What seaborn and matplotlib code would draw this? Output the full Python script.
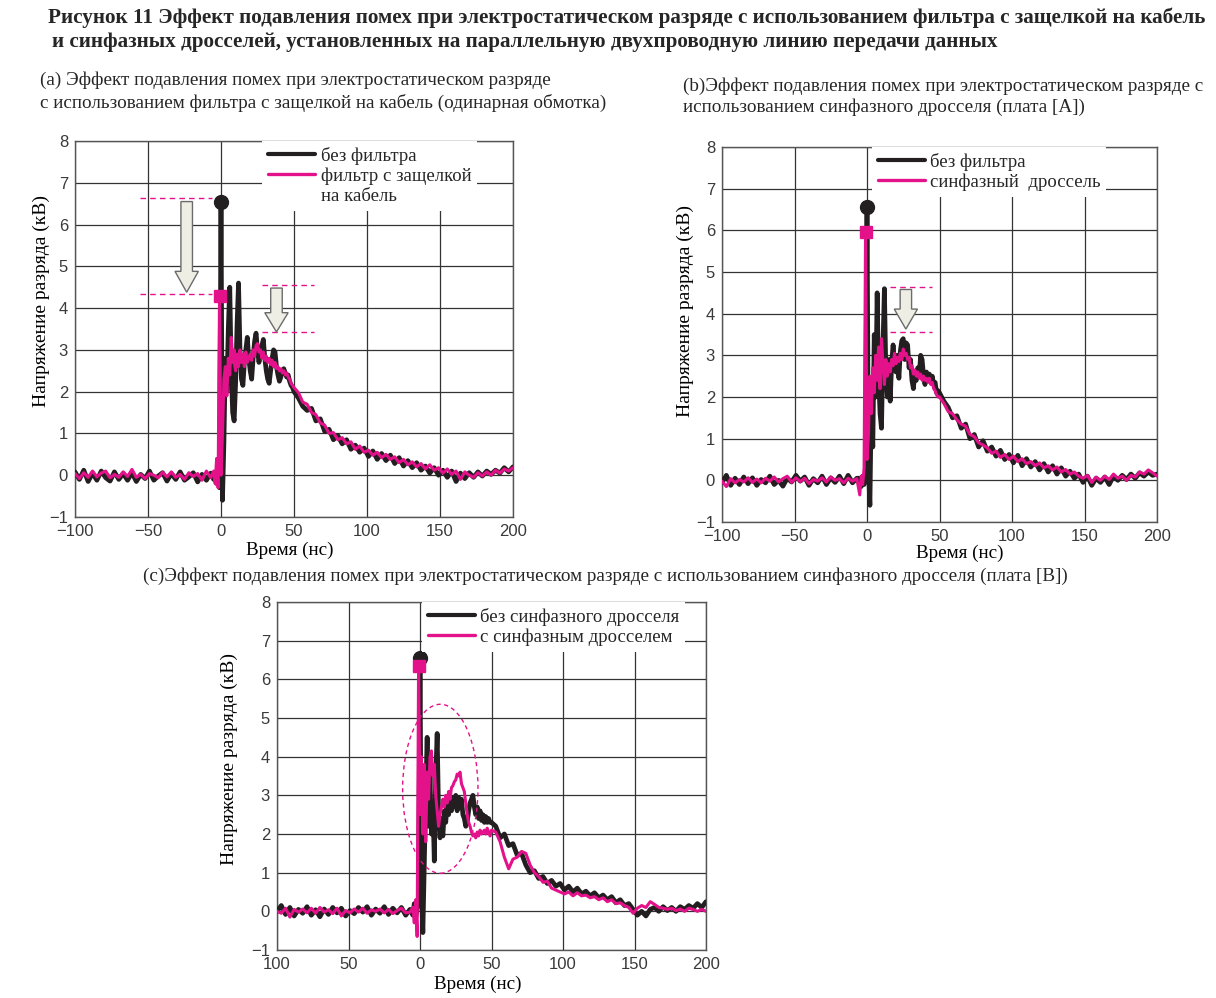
import matplotlib
matplotlib.use("Agg")
import numpy as np
import pandas as pd
import matplotlib.pyplot as plt
import seaborn as sns
from matplotlib.lines import Line2D
from matplotlib.patches import Ellipse

# time grid, ns
T_BASE = list(range(-100, -5, 3))
T_PEAK = list(range(-5, 50))
T_TAIL = list(range(50, 201, 3))

# (a) black = без фильтра, pink = фильтр с защелкой
a_black_base = [0.08, -0.1, 0.12, -0.15, 0.05, -0.12, 0.1, -0.06, -0.14, 0.08,
                -0.1, 0.04, -0.12, 0.06, -0.15, 0.02, -0.08, 0.1, -0.12, -0.02,
                0.06, -0.14, 0.04, -0.1, 0.08, -0.12, -0.04, 0.06, -0.16, 0.02,
                -0.12, 0.05]
a_pink_base = [0.04, -0.08, 0.06, -0.05, 0.1, -0.04, 0.05, 0.1, -0.06, 0.02,
               -0.05, 0.08, -0.03, 0.14, -0.05, 0.02, -0.08, 0.04, 0.0, -0.06,
               0.07, -0.04, 0.08, -0.05, 0.02, -0.1, 0.06, -0.03, 0.04, -0.12,
               0.1, -0.06]
a_black_peak = [-0.1, 0.05, -0.2, 0.1, -0.3,
                6.55, -0.6, 0.8, 2.8, 2.0,
                3.5, 4.5, 2.5, 1.5, 1.3,
                2.2, 3.6, 4.6, 3.0, 2.3,
                2.15, 2.7, 3.0, 3.3, 2.8,
                2.5, 2.3, 2.8, 3.2, 3.4,
                3.0, 2.7, 2.9, 3.1, 3.25,
                2.8, 2.5, 2.3, 2.2, 2.5,
                2.8, 3.0, 2.95, 2.6, 2.4,
                2.25, 2.35, 2.5, 2.55, 2.45,
                2.35, 2.4, 2.25, 2.15, 2.1]
a_pink_peak = [0.1, -0.2, 0.4, -0.3, 4.3,
               0.0, 1.0, 2.3, 2.6, 1.9,
               2.8, 2.4, 3.3, 2.7, 3.0,
               2.5, 2.9, 2.6, 3.0, 2.7,
               2.9, 2.6, 2.95, 2.7, 2.8,
               2.9, 2.75, 3.0, 2.85, 3.1,
               3.15, 2.95, 3.0, 2.8, 2.95,
               2.75, 2.85, 2.7, 2.8, 2.65,
               2.75, 2.6, 2.7, 2.55, 2.6,
               2.5, 2.55, 2.45, 2.5, 2.4,
               2.45, 2.35, 2.3, 2.2, 2.15]
a_black_tail = [2.0, 1.85, 1.65, 1.55, 1.6, 1.3, 1.35, 1.05, 1.1, 0.85,
                0.95, 0.75, 0.85, 0.62, 0.72, 0.55, 0.65, 0.45, 0.58, 0.38,
                0.52, 0.35, 0.48, 0.28, 0.42, 0.22, 0.35, 0.18, 0.3, 0.12,
                0.22, 0.05, 0.18, 0.0, 0.12, -0.05, 0.1, -0.15, 0.05, -0.08,
                0.06, -0.05, 0.08, -0.02, 0.1, 0.02, 0.12, 0.05, 0.18, 0.08,
                0.2]
a_pink_tail = [2.1, 1.98, 1.75, 1.7, 1.5, 1.45, 1.25, 1.2, 1.0, 1.02,
               0.85, 0.9, 0.75, 0.8, 0.62, 0.7, 0.55, 0.6, 0.48, 0.55,
               0.42, 0.5, 0.38, 0.44, 0.3, 0.38, 0.25, 0.32, 0.2, 0.28,
               0.15, 0.25, 0.12, 0.18, 0.05, 0.15, 0.02, 0.1, -0.1, 0.08,
               0.0, -0.05, 0.06, -0.02, 0.08, 0.0, 0.12, 0.05, 0.15, 0.1,
               0.18]

# (b) black = без фильтра, pink = синфазный дроссель
b_black_base = [-0.05, 0.12, -0.12, 0.05, -0.1, 0.08, -0.08, 0.06, -0.12, 0.02,
                -0.06, 0.1, -0.1, 0.0, -0.14, 0.05, -0.04, 0.12, -0.02, 0.08,
                -0.12, 0.04, -0.06, 0.1, -0.1, 0.06, -0.05, 0.1, -0.08, 0.12,
                -0.06, 0.05]
b_pink_base = [-0.02, -0.15, 0.04, -0.06, 0.02, -0.04, 0.06, -0.05, 0.03, -0.06,
               0.05, -0.02, 0.08, -0.04, 0.04, 0.1, -0.05, 0.06, -0.03, 0.05,
               -0.08, 0.02, -0.02, 0.06, -0.04, 0.08, 0.0, 0.04, -0.06, 0.05,
               -0.02, 0.04]
b_black_peak = [0.05, -0.15, 0.1, -0.1, 0.2,
                6.55, 0.3, -0.6, 2.0, 0.8,
                3.5, 2.0, 4.5, 2.5, 1.6,
                1.25, 3.2, 4.6, 2.6, 2.0,
                2.9, 1.9, 2.8, 3.25, 2.8,
                2.6, 3.0, 2.45, 3.1, 3.35,
                3.4, 2.9, 3.3, 3.25, 2.7,
                2.9, 2.4, 2.2, 2.6, 2.4,
                2.7, 2.5, 3.0, 2.9, 2.5,
                2.3, 2.6, 2.45, 2.55, 2.35,
                2.5, 2.3, 2.35, 2.1, 2.15]
b_pink_peak = [-0.35, 0.1, -0.1, 0.3, 5.95,
               0.5, 1.1, 2.5, 1.6, 2.7,
               2.1, 3.0, 2.4, 3.2, 2.2,
               3.4, 2.8, 2.3, 2.9, 2.5,
               2.8, 2.6, 2.9, 2.75, 3.05,
               2.8, 2.95, 2.85, 3.05, 2.9,
               3.15, 3.0, 3.05, 2.9, 2.95,
               2.7, 2.75, 2.55, 2.65, 2.5,
               2.6, 2.45, 2.55, 2.4, 2.5,
               2.4, 2.45, 2.35, 2.45, 2.3,
               2.35, 2.2, 2.15, 2.05, 2.0]
b_black_tail = [2.1, 1.9, 1.75, 1.5, 1.55, 1.25, 1.35, 1.0, 1.1, 0.8,
                0.95, 0.7, 0.8, 0.58, 0.72, 0.5, 0.62, 0.42, 0.6, 0.35,
                0.52, 0.32, 0.45, 0.25, 0.4, 0.2, 0.35, 0.15, 0.3, 0.1,
                0.22, 0.05, 0.15, -0.05, 0.1, -0.12, 0.05, -0.05, 0.08, -0.1,
                0.1, 0.0, 0.12, 0.02, 0.15, 0.05, 0.18, 0.1, 0.2, 0.12,
                0.15]
b_pink_tail = [2.0, 1.85, 1.65, 1.6, 1.45, 1.35, 1.3, 1.1, 1.05, 0.9,
               0.85, 0.78, 0.65, 0.7, 0.55, 0.62, 0.5, 0.58, 0.45, 0.52,
               0.4, 0.45, 0.35, 0.42, 0.3, 0.35, 0.25, 0.32, 0.2, 0.26,
               0.15, 0.2, 0.1, 0.05, 0.12, -0.05, 0.08, 0.0, 0.1, 0.02,
               0.15, 0.05, 0.1, 0.0, 0.12, 0.08, 0.2, 0.15, 0.25, 0.18,
               0.1]

# (c) black = без синфазного дросселя, pink = с синфазным дросселем
c_black_base = [0.0, 0.15, -0.08, 0.1, -0.12, 0.05, -0.05, 0.12, -0.1, 0.04,
                -0.14, 0.06, -0.08, 0.1, -0.04, 0.08, -0.12, 0.02, -0.06, 0.1,
                -0.02, 0.12, -0.1, 0.06, -0.05, 0.12, -0.08, 0.08, -0.04, 0.1,
                -0.1, 0.05]
c_pink_base = [0.0, -0.05, 0.08, -0.15, 0.05, -0.02, 0.06, -0.04, 0.08, -0.05,
               0.1, -0.02, 0.04, -0.06, 0.08, -0.12, 0.02, -0.04, 0.06, -0.02,
               0.08, -0.05, 0.04, 0.0, 0.06, -0.04, 0.05, -0.06, 0.02, 0.08,
               -0.04, -0.02]
c_black_peak = [-0.1, 0.2, -0.15, 0.1, 0.3,
                6.55, 0.5, -0.55, 1.2, 3.0,
                4.5, 2.2, 3.5, 2.0, 2.8,
                1.3, 3.5, 4.6, 2.5, 1.9,
                2.4, 1.95, 2.6, 2.3, 2.8,
                2.5, 2.9, 2.6, 2.95, 2.7,
                3.0, 2.6, 2.95, 2.7, 2.9,
                2.5, 2.4, 2.2, 2.3, 2.6,
                2.8, 2.9, 3.0, 2.7, 2.5,
                2.7, 2.4, 2.6, 2.35, 2.5,
                2.3, 2.45, 2.3, 2.4, 2.3]
c_pink_peak = [0.1, -0.3, 0.3, -0.65, 6.35,
               2.5, 4.0, 2.0, 3.8, 1.8,
               3.6, 2.9, 4.0, 4.15, 3.5,
               3.8, 3.0, 2.6, 2.2, 2.5,
               2.7, 2.9, 2.7, 3.0, 2.8,
               3.1, 2.9, 3.2, 3.25, 3.35,
               3.4, 3.55, 3.5, 3.6, 3.3,
               3.2, 3.1, 2.8, 2.5, 2.3,
               2.2, 2.05, 1.95, 2.0, 1.9,
               2.05, 1.95, 2.1, 2.0, 2.05,
               2.1, 2.0, 2.15, 2.05, 1.95]
c_black_tail = [2.3, 2.2, 1.9, 2.0, 1.7, 1.75, 1.45, 1.5, 1.2, 1.0,
                1.05, 0.85, 0.9, 0.72, 0.8, 0.65, 0.72, 0.55, 0.65, 0.5,
                0.6, 0.45, 0.52, 0.4, 0.48, 0.35, 0.42, 0.3, 0.38, 0.22,
                0.3, 0.15, 0.2, 0.05, -0.1, 0.0, -0.12, 0.05, 0.1, 0.0,
                0.12, 0.02, 0.1, 0.0, 0.12, 0.05, 0.15, 0.08, 0.2, 0.1,
                0.25]
c_pink_tail = [2.1, 2.05, 1.8, 1.4, 1.1, 1.35, 1.4, 1.55, 1.5, 1.2,
               1.0, 0.9, 0.75, 0.78, 0.6, 0.55, 0.5, 0.45, 0.5, 0.4,
               0.48, 0.4, 0.42, 0.35, 0.38, 0.3, 0.35, 0.25, 0.3, 0.2,
               0.22, 0.15, 0.1, -0.05, 0.08, 0.15, 0.1, 0.25, 0.18, 0.1,
               0.08, 0.05, 0.08, 0.02, 0.06, 0.0, 0.08, 0.05, 0.0, 0.05,
               0.0]

X_TICKS = [-100, -50, 0, 50, 100, 150, 200]
Y_TICKS = list(range(-1, 9))
C_XTICKLABELS = ["100", "50", "0", "50", "100", "150", "200"]

BLACK = "#231f20"
PINK = "#e4128a"
ARROW_FILL = "#efeee5"

W, H = 1216, 998

sns.set_theme(style="white")
plt.rcParams["font.family"] = ["Liberation Serif", "DejaVu Serif"]
plt.rcParams["axes.unicode_minus"] = True

fig = plt.figure(figsize=(W / 100, H / 100), dpi=100)


def px_axes(left, top, right, bottom):
    # axes box from pixel edges of the reference
    return fig.add_axes([left / W, 1 - bottom / H, (right - left) / W, (bottom - top) / H])


def put(px, py, s, **kw):
    fig.text(px / W, 1 - py / H, s, ha="left", va="center", **kw)


def draw_panel(ax, black, pink, labels, legend_x, xticklabels=None):
    t = np.array(T_BASE + T_PEAK + T_TAIL)
    df = pd.DataFrame({"t": t, "black": black, "pink": pink})
    sns.lineplot(data=df, x="t", y="black", ax=ax, color=BLACK, linewidth=3.4,
                 estimator=None, sort=False, zorder=3)
    sns.lineplot(data=df, x="t", y="pink", ax=ax, color=PINK, linewidth=2.2,
                 estimator=None, sort=False, zorder=4)
    # peak markers
    ib, ip = df["black"].idxmax(), df["pink"].idxmax()
    ax.plot(df.t[ib], df.black[ib], "o", color=BLACK, ms=10, zorder=5)
    ax.plot(df.t[ip], df.pink[ip], "s", color=PINK, ms=9, zorder=6)

    ax.set_xlim(-100, 200)
    ax.set_ylim(-1, 8)
    ax.set_xticks(X_TICKS)
    ax.set_yticks(Y_TICKS)
    if xticklabels is not None:
        ax.set_xticklabels(xticklabels)
    ax.tick_params(length=0, pad=5, labelsize=12, colors="#3a3a3a")
    for lab in ax.get_xticklabels() + ax.get_yticklabels():
        lab.set_family("Liberation Sans")
    ax.grid(True, color="#333333", lw=0.9)
    ax.set_axisbelow(True)
    for sp in ax.spines.values():
        sp.set_visible(True)
        sp.set_color("#555555")
        sp.set_linewidth(1.0)
    ax.set_xlabel("Время (нс)", fontsize=13.8, color="black")
    ax.set_ylabel("Напряжение разряда (кВ)", fontsize=14, color="black")

    handles = [Line2D([], [], color=BLACK, lw=3.0), Line2D([], [], color=PINK, lw=2.4)]
    if len(labels) == 3:
        handles.append(Line2D([], [], color="none"))
    ax.legend(handles, labels, loc="upper left", bbox_to_anchor=(legend_x, 1.0),
              fontsize=13.5, handlelength=2.5, handletextpad=0.3, labelspacing=0.15,
              borderpad=0.3, borderaxespad=0, frameon=True, fancybox=False,
              edgecolor="none", facecolor="white", framealpha=1)


def dashed(ax, y, x0, x1):
    ax.plot([x0, x1], [y, y], color=PINK, lw=1.0, ls=(0, (4, 3)), zorder=5)


def down_arrow(ax, x, y_top, y_tip, head_len):
    ax.arrow(x, y_top, 0, y_tip - y_top, width=7.9, head_width=16, head_length=head_len,
             length_includes_head=True, fc=ARROW_FILL, ec="#6b6b6b", lw=1.0, zorder=6)


# main caption
put(48, 18, "Рисунок 11 Эффект подавления помех при электростатическом разряде с "
            "использованием фильтра с защелкой на кабель", fontsize=15.2, fontweight="bold")
put(52, 42, "и синфазных дросселей, установленных на параллельную двухпроводную "
            "линию передачи данных", fontsize=15.2, fontweight="bold")

# (a)
put(40, 80, "(a) Эффект подавления помех при электростатическом разряде", fontsize=13.8)
put(40, 103, "с использованием фильтра с защелкой на кабель (одинарная обмотка)", fontsize=13.8)
ax_a = px_axes(75, 141, 513, 517)
draw_panel(ax_a, a_black_base + a_black_peak + a_black_tail,
           a_pink_base + a_pink_peak + a_pink_tail,
           ["без фильтра", "фильтр с защелкой", "на кабель"], 0.428)
ax_a.yaxis.set_label_coords(-0.057, 0.574)
ax_a.xaxis.set_label_coords(0.49, -0.066)
dashed(ax_a, 6.63, -55.5, -6.3)
dashed(ax_a, 4.34, -55.5, -6.3)
dashed(ax_a, 4.56, 28, 64)
dashed(ax_a, 3.42, 28, 64)
down_arrow(ax_a, -23.5, 6.55, 4.38, 0.5)
down_arrow(ax_a, 38, 4.48, 3.43, 0.46)

# (b)
put(683, 86, "(b)Эффект подавления помех при электростатическом разряде с", fontsize=13.8)
put(683, 107, "использованием синфазного дросселя (плата [A])", fontsize=13.8)
ax_b = px_axes(722, 147, 1157, 522)
draw_panel(ax_b, b_black_base + b_black_peak + b_black_tail,
           b_pink_base + b_pink_peak + b_pink_tail,
           ["без фильтра", "синфазный  дроссель"], 0.345)
ax_b.yaxis.set_label_coords(-0.064, 0.563)
ax_b.xaxis.set_label_coords(0.547, -0.061)
dashed(ax_b, 4.63, 16, 44.6)
dashed(ax_b, 3.56, 16, 44.6)
down_arrow(ax_b, 26.8, 4.58, 3.63, 0.48)

# (c)
put(143, 576, "(c)Эффект подавления помех при электростатическом разряде с использованием "
              "синфазного дросселя (плата [B])", fontsize=13.8)
ax_c = px_axes(277, 602, 706, 950)
draw_panel(ax_c, c_black_base + c_black_peak + c_black_tail,
           c_pink_base + c_pink_peak + c_pink_tail,
           ["без синфазного дросселя", "с синфазным дросселем"], 0.338,
           xticklabels=C_XTICKLABELS)
ax_c.yaxis.set_label_coords(-0.091, 0.549)
ax_c.xaxis.set_label_coords(0.469, -0.075)
ax_c.add_patch(Ellipse((14.2, 3.17), 52.7, 4.37, fill=False, ec=PINK, lw=1.0,
                       ls=(0, (3, 2.5)), zorder=6))

fig.savefig("out.png", dpi=100)
